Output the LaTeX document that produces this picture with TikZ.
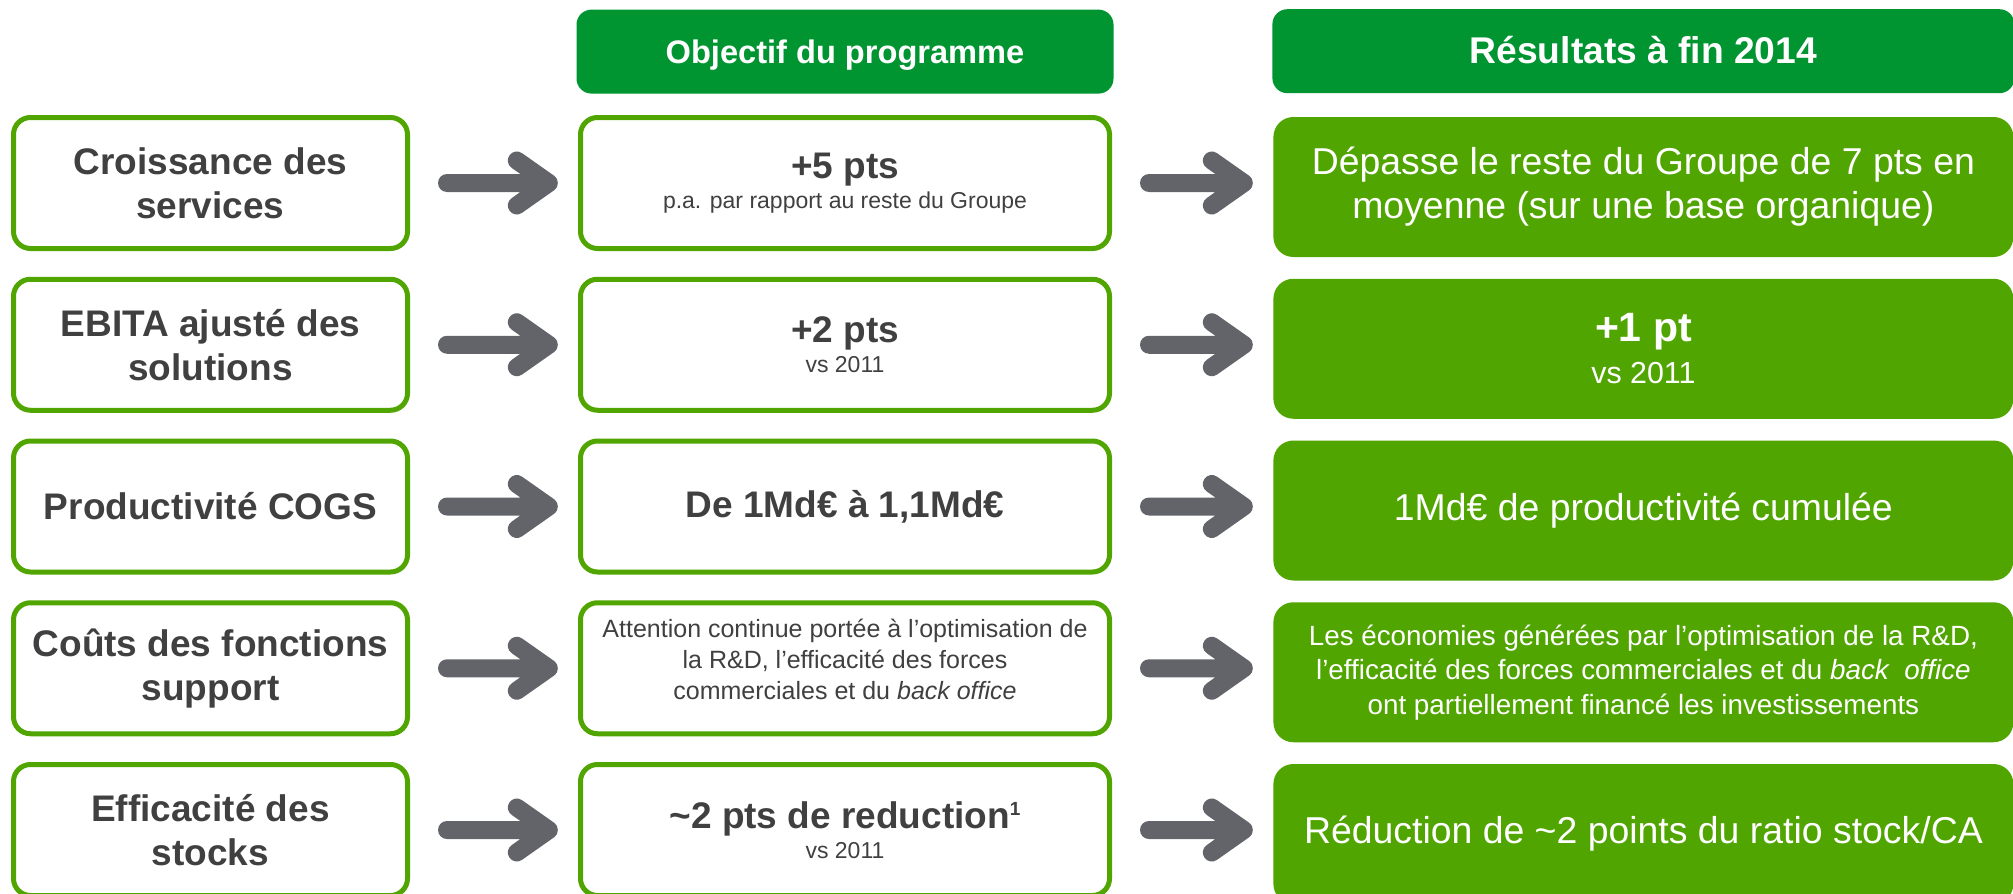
\documentclass[tikz,border=0pt]{standalone}
\usepackage{fontspec}
\setmainfont{Liberation Sans}
\usetikzlibrary{positioning}
\definecolor{titelgruen}{RGB}{0,149,48}
\definecolor{hellgruen}{RGB}{80,165,0}
\definecolor{pilgrau}{RGB}{98,100,105}
\definecolor{textgrau}{RGB}{64,64,64}
\newcommand{\gross}{\fontsize{18.5}{22.5}\selectfont\bfseries}
\tikzset{
    % Define style for outlined boxes
    rahmen/.style={
           rectangle,
           rounded corners=8.5pt,
           draw=hellgruen, line width=2.5pt,
           fill=white,
           text=textgrau,
           minimum height=65.5pt,
           align=center},
    links/.style={rahmen, minimum width=197pt,
           font=\fontsize{18.5}{22}\selectfont\bfseries},
    mitte/.style={rahmen, minimum width=264.5pt,
           font=\fontsize{11.5}{15}\selectfont},
    % Define style for filled result boxes
    voll/.style={
           rectangle,
           rounded corners=10pt,
           fill=hellgruen,
           text=white,
           minimum width=370pt,
           minimum height=70pt,
           align=center,
           font=\fontsize{18.7}{22}\selectfont},
    % Define style for column titles
    titel/.style={
           rectangle,
           rounded corners=7.5pt,
           fill=titelgruen,
           text=white,
           minimum height=42pt,
           text height=12pt,
           text depth=0pt,
           align=center},
    % Define arrow style
    pil/.style={
           draw=pilgrau,
           line width=9pt,
           line cap=round,
           line join=round,
           to path={([xshift=18.5pt]\tikztostart.east) -- ([xshift=-14.6pt]\tikztotarget.west |- \tikztostart.east) coordinate (tip)
                    ++(-16pt,11.25pt) -- (tip) -- ++(-16pt,-11.25pt)}}
}

\begin{document}
\begin{tikzpicture}[x=0.5pt, y=-0.5pt, node distance=12.875pt and 84pt]
  \path[use as bounding box, clip] (0,0) rectangle (2013,894);
  % left column
  \node[links] (c1) at (210.5,183) {Croissance des\\services};
  \node[links] (c2) [below=of c1] {EBITA ajusté des\\solutions};
  \node[links] (c3) [below=of c2] {Productivité COGS};
  \node[links] (c4) [below=of c3] {Coûts des fonctions\\support};
  \node[links] (c5) [below=of c4] {Efficacité des\\stocks};
  % objectives
  \node[mitte] (o1) [right=of c1] {{\gross +5 pts}\\p.a. par rapport au reste du Groupe};
  \node[mitte] (o2) [right=of c2] {{\gross +2 pts}\\vs 2011};
  \node[mitte] (o3) [right=of c3] {\gross De 1Md€ à 1,1Md€};
  \node[mitte, font=\fontsize{12.5}{15.6}\selectfont] (o4) [right=of c4]
    {Attention continue portée à l’optimisation de\\la R\&D, l’efficacité des forces\\commerciales et du \textit{back office}\rule[-9pt]{0pt}{9pt}};
  \node[mitte] (o5) [right=of c5] {{\gross \textasciitilde2 pts de reduction\raisebox{6.5pt}{\fontsize{9.5}{10}\selectfont 1}}\\vs 2011};
  % results
  \node[voll, yshift=-2pt] (r1) [right=80.5pt of o1] {Dépasse le reste du Groupe de 7 pts en\\moyenne (sur une base organique)};
  \node[voll, yshift=-2pt] (r2) [right=80.5pt of o2] {{\fontsize{20.5}{24}\selectfont\bfseries +1 pt}\\[-1pt]{\fontsize{15.2}{18}\selectfont vs 2011}};
  \node[voll, yshift=-2pt] (r3) [right=80.5pt of o3] {1Md€ de productivité cumulée};
  \node[voll, yshift=-2pt, font=\fontsize{13.9}{17.2}\selectfont] (r4) [right=80.5pt of o4]
    {Les économies générées par l’optimisation de la R\&D,\\l’efficacité des forces commerciales et du \textit{back~~office}\\ont partiellement financé les investissements};
  \node[voll, yshift=-2pt] (r5) [right=80.5pt of o5] {Réduction de \textasciitilde2 points du ratio stock/CA};
  % column titles
  \node[titel, minimum width=268.5pt, font=\fontsize{16.3}{20}\selectfont\bfseries] (ho) [above=10.5pt of o1] {Objectif du programme};
  \node[titel, minimum width=371pt, font=\fontsize{18.6}{22}\selectfont\bfseries] (hr) [above=11.5pt of r1] {Résultats à fin 2014};
  % arrows
  \path
    (c1) edge[pil] (o1)  (o1) edge[pil] (r1)
    (c2) edge[pil] (o2)  (o2) edge[pil] (r2)
    (c3) edge[pil] (o3)  (o3) edge[pil] (r3)
    (c4) edge[pil] (o4)  (o4) edge[pil] (r4)
    (c5) edge[pil] (o5)  (o5) edge[pil] (r5);
\end{tikzpicture}
\end{document}
